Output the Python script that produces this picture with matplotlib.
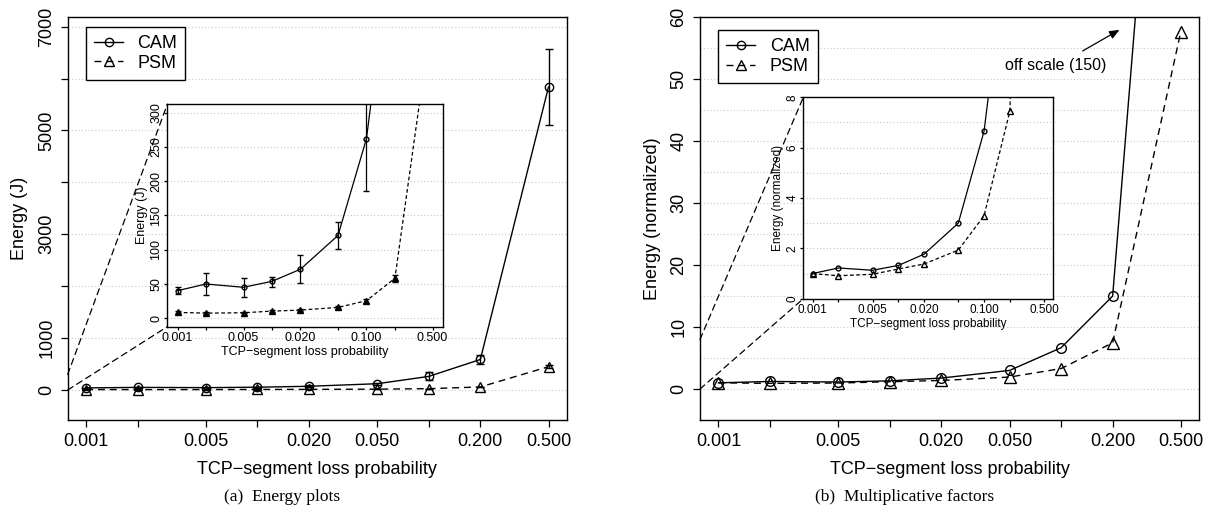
import numpy as np
import matplotlib
matplotlib.use("Agg")
import matplotlib.pyplot as plt
from matplotlib.patches import ConnectionPatch
from matplotlib.lines import Line2D

plt.rcParams['font.family'] = ['Liberation Sans', 'DejaVu Sans']

# ---------- DATA ----------
loss_p = [0.001, 0.002, 0.005, 0.01, 0.02, 0.05, 0.1, 0.2, 0.5]
xtick_main = ['0.001', '', '0.005', '', '0.020', '0.050', '', '0.200', '0.500']
xtick_inset = ['0.001', '', '0.005', '', '0.020', '', '0.100', '', '0.500']

# energy (J) with error bar limits
cam_energy = [40.5, 50.2, 45.4, 54.1, 71.7, 121, 262, 588, 5838]
cam_low = [35.1, 33.7, 31.7, 46.3, 51.2, 101, 186, 500, 5112]
cam_high = [46.3, 66.3, 58.5, 61.0, 92.2, 140.5, 340, 680, 6564]
psm_energy = [8.8, 7.8, 8.3, 10.7, 12.2, 16.1, 25.9, 58.5, 449]
psm_err = [1.5, 1.0, 1.0, 1.5, 1.5, 2.0, 3.0, 5.4, 30]

# normalized energy
cam_norm = [1.0, 1.22, 1.13, 1.32, 1.77, 3.0, 6.66, 15.0, 150]
psm_norm = [1.0, 0.91, 0.97, 1.18, 1.38, 1.93, 3.30, 7.46, 57.7]

W, H = 1211, 519
fig = plt.figure(figsize=(W / 100, H / 100), dpi=100)


def px_axes(l, t, r, b):
    return fig.add_axes([l / W, 1 - b / H, (r - l) / W, (b - t) / H])


lo, hi = np.log10(loss_p[0]), np.log10(loss_p[-1])
pad = 0.04 * (hi - lo)
xlim = (10 ** (lo - pad), 10 ** (hi + pad))

DASH = (0, (5, 3.5))


def style_axes(ax, yticks, ylabels, grid, xlabels, fs, tl, tpad):
    ax.set_xscale('log')
    ax.set_xlim(*xlim)
    ax.set_xticks(loss_p, xlabels)
    ax.xaxis.set_minor_locator(matplotlib.ticker.NullLocator())
    ax.set_yticks(yticks, ylabels, rotation=90, va='center')
    for g in grid:
        ax.axhline(g, color='#c8c8c8', lw=0.8, ls=(0, (1, 2)), zorder=0)
    ax.tick_params(direction='out', length=tl, width=0.9, labelsize=fs, pad=tpad)
    for s in ax.spines.values():
        s.set_linewidth(1.0)


def add_legend(ax, anchor, ms_c, ms_t):
    handles = [Line2D([], [], color='black', lw=1, marker='o', mfc='none', ms=ms_c),
               Line2D([], [], color='black', lw=1, ls=DASH, marker='^', mfc='none', ms=ms_t)]
    leg = ax.legend(handles, ['CAM', 'PSM'], loc='upper left', bbox_to_anchor=anchor,
                    fontsize=13, frameon=True, fancybox=False, edgecolor='black',
                    framealpha=1, borderaxespad=0, handlelength=1.6, handletextpad=0.8,
                    borderpad=0.45, labelspacing=0.15)
    leg.get_frame().set_linewidth(1.0)


# ---------- PANEL (a) ----------
ax = px_axes(67.7, 17.3, 567, 420)
ax.set_ylim(-578, 7181)
style_axes(ax, range(0, 7001, 1000),
           ['0', '1000', '', '3000', '', '5000', '', '7000'],
           range(0, 7001, 1000), xtick_main, 13, 5, 4)
yerr_cam = [np.subtract(cam_energy, cam_low), np.subtract(cam_high, cam_energy)]
ax.errorbar(loss_p, cam_energy, yerr=yerr_cam, fmt='-o', color='black', mfc='none',
            ms=6, lw=1, capsize=3)
ax.errorbar(loss_p, psm_energy, yerr=psm_err, fmt='^', ls=DASH, color='black',
            mfc='none', ms=7, lw=1, capsize=3)
ax.set_xlabel('TCP\u2212segment loss probability', fontsize=13)
ax.set_ylabel('Energy (J)', fontsize=13)
ax.xaxis.set_label_coords(0.5, -0.102)
ax.yaxis.set_label_coords(-0.079, 0.5)
add_legend(ax, (0.0367, 0.976), 6, 7)

ins = px_axes(167.3, 104.3, 442.7, 326.7)
ins.set_ylim(-12, 312)
style_axes(ins, range(0, 301, 50), [str(v) for v in range(0, 301, 50)],
           range(0, 301, 50), xtick_inset, 9, 2.5, 1)
ins.errorbar(loss_p, cam_energy, yerr=yerr_cam, fmt='-o', color='black', mfc='none',
             ms=3.5, lw=0.9, capsize=2.5)
ins.errorbar(loss_p, psm_energy, yerr=psm_err, fmt='^', ls=(0, (3, 2)), color='black',
             ms=4, lw=0.9, capsize=2.5)
ins.set_xlabel('TCP\u2212segment loss probability', fontsize=9, labelpad=2)
ins.set_ylabel('Energy (J)', fontsize=9, labelpad=2)

for yA, yB in [(300, 1), (0, 0)]:
    con = ConnectionPatch(xyA=(xlim[0], yA), coordsA=ax.transData,
                          xyB=(0, yB), coordsB=ins.transAxes,
                          color='black', lw=0.9, ls=DASH)
    fig.add_artist(con)

fig.text(282 / W, 1 - 497 / H, '(a)  Energy plots', family='Liberation Serif',
         fontsize=12.5, ha='center', va='center')

# ---------- PANEL (b) ----------
bx = px_axes(700, 17.3, 1199.3, 420)
bx.set_ylim(-5, 60)
style_axes(bx, range(0, 61, 10), [str(v) for v in range(0, 61, 10)],
           range(0, 61, 5), xtick_main, 13, 5, 4)
bx.plot(loss_p, cam_norm, '-o', color='black', mfc='none', ms=7, lw=1)
bx.plot(loss_p, psm_norm, '^', ls=DASH, color='black', mfc='none', ms=8, lw=1)
bx.set_xlabel('TCP\u2212segment loss probability', fontsize=13)
bx.set_ylabel('Energy (normalized)', fontsize=13)
bx.xaxis.set_label_coords(0.5, -0.102)
bx.yaxis.set_label_coords(-0.079, 0.5)
add_legend(bx, (0.0367, 0.968), 6, 7)
bx.text(0.0933, 52.3, 'off scale (150)', fontsize=11.5, ha='center', va='center')
bx.annotate('', xy=(0.2265, 58.2), xytext=(0.1294, 54.35),
            arrowprops=dict(arrowstyle='-|>,head_length=0.6,head_width=0.25',
                            color='black', lw=0.9))

bins = px_axes(803.3, 97.3, 1053.3, 298.7)
bins.set_ylim(0, 8)
style_axes(bins, range(0, 9, 2), [str(v) for v in range(0, 9, 2)],
           range(0, 9), xtick_inset, 8.5, 2.5, 1)
bins.plot(loss_p, cam_norm, '-o', color='black', mfc='none', ms=3.5, lw=0.9)
bins.plot(loss_p, psm_norm, '^', ls=(0, (3, 2)), color='black', mfc='none', ms=4, lw=0.9)
bins.set_xlabel('TCP\u2212segment loss probability', fontsize=8.5, labelpad=2)
bins.set_ylabel('Energy (normalized)', fontsize=8.5, labelpad=2)

for yA, yB in [(8, 1), (0, 0)]:
    con = ConnectionPatch(xyA=(xlim[0], yA), coordsA=bx.transData,
                          xyB=(0, yB), coordsB=bins.transAxes,
                          color='black', lw=0.9, ls=DASH)
    fig.add_artist(con)

fig.text(905 / W, 1 - 497 / H, '(b)  Multiplicative factors', family='Liberation Serif',
         fontsize=12.5, ha='center', va='center')

fig.savefig('out.png', dpi=100)
